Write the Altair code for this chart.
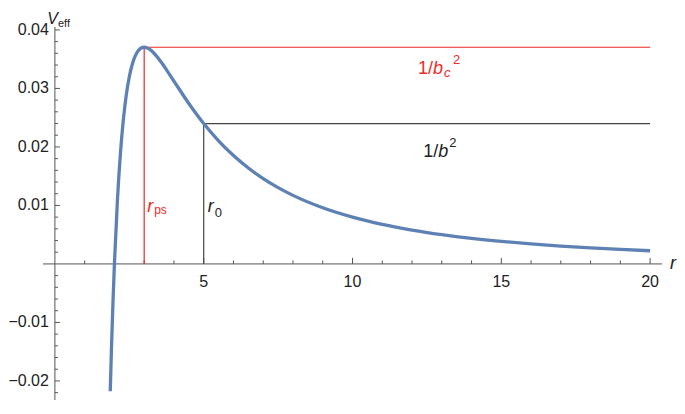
import altair as alt
import pandas as pd

# ---------------- data ----------------
r_vals = [1.86, 1.9, 1.95, 2.0, 2.1, 2.2, 2.3, 2.4, 2.5, 2.6, 2.7, 2.8, 2.9, 3.0,
          3.1, 3.2, 3.4, 3.6, 3.8, 4.0, 4.5, 5.0, 5.5, 6.0, 6.5, 7.0, 7.5, 8.0,
          9.0, 10.0, 11.0, 12.0, 13.0, 14.0, 15.0, 16.0, 17.0, 18.0, 19.0, 20.0]
v_vals = [-0.02176, -0.01458, -0.00674, 0.0, 0.01080, 0.01878, 0.02466, 0.02894,
          0.03200, 0.03414, 0.03556, 0.03644, 0.03690, 0.03704, 0.03692, 0.03662,
          0.03562, 0.03429, 0.03280, 0.03125, 0.02743, 0.02400, 0.02104, 0.01852,
          0.01639, 0.01458, 0.01304, 0.01172, 0.00960, 0.00800, 0.00676, 0.00579,
          0.00501, 0.00437, 0.00385, 0.00342, 0.00305, 0.00274, 0.00248, 0.00225]

r_ps = 3.0
v_c = 0.03704
r_0 = 5.0
v_0 = 0.024
r_end = 20.0

x_major_ticks = [5, 10, 15, 20]
x_major_labels = ["5", "10", "15", "20"]
x_minor_ticks = [1, 2, 3, 4, 6, 7, 8, 9, 11, 12, 13, 14, 16, 17, 18, 19]
y_major_ticks = [-0.02, -0.01, 0.01, 0.02, 0.03, 0.04]
y_major_labels = ["\u22120.02", "\u22120.01", "0.01", "0.02", "0.03", "0.04"]
y_minor_ticks = [-0.022, -0.018, -0.016, -0.014, -0.012, -0.008, -0.006, -0.004,
                 -0.002, 0.002, 0.004, 0.006, 0.008, 0.012, 0.014, 0.016, 0.018,
                 0.022, 0.024, 0.026, 0.028, 0.032, 0.034, 0.036, 0.038]

# label anchors (data coordinates)
bc_label_at = (12.2, 0.0325)
b_label_at = (12.38, 0.0183)
r_label_v = 0.0089

# ---------------- styling ----------------
FONT = "Liberation Sans"
BLUE = "#5E81B5"
RED = "#EE2A24"
DARK = "#444444"
AX = "#555555"
TXT = "#222222"

X_MIN, X_MAX = -0.4, 20.4
Y_MAX = 0.0405
PX_PER_UNIT_Y = 5850.0
HEIGHT = 373
Y_MIN = Y_MAX - HEIGHT / PX_PER_UNIT_Y
WIDTH = 619

xs = alt.Scale(domain=[X_MIN, X_MAX], nice=False, zero=False)
ys = alt.Scale(domain=[Y_MIN, Y_MAX], nice=False, zero=False)

one = pd.DataFrame({"a": [0]})


def xd(v):
    return alt.XDatum(v, type="quantitative", scale=xs, axis=None)


def yd(v):
    return alt.YDatum(v, type="quantitative", scale=ys, axis=None)


def piece(text, r, v, dx=0, dy=0, size=18, italic=True, color=TXT,
          align="left", baseline="alphabetic"):
    return alt.Chart(one).mark_text(
        text=text, dx=dx, dy=dy, fontSize=size,
        fontStyle="italic" if italic else "normal",
        color=color, align=align, baseline=baseline, font=FONT
    ).encode(x=xd(r), y=yd(v))


# ---------------- axes ----------------
x_axis_line = alt.Chart(one).mark_rule(color=AX, strokeWidth=1).encode(
    x=xd(X_MIN), x2=alt.datum(X_MAX), y=yd(0), y2=alt.datum(0))
y_axis_line = alt.Chart(one).mark_rule(color=AX, strokeWidth=1).encode(
    x=xd(0), x2=alt.datum(0), y=yd(Y_MIN), y2=alt.datum(Y_MAX))

xt_major = pd.DataFrame({"t": x_major_ticks, "lab": x_major_labels})
xt_minor = pd.DataFrame({"t": x_minor_ticks})
yt_major = pd.DataFrame({"t": y_major_ticks, "lab": y_major_labels})
yt_minor = pd.DataFrame({"t": y_minor_ticks})

x_major_marks = alt.Chart(xt_major).mark_rule(color=AX, strokeWidth=1, y2Offset=-6).encode(
    x=alt.X("t:Q", scale=xs, axis=None), y=yd(0), y2=alt.datum(0))
x_minor_marks = alt.Chart(xt_minor).mark_rule(color=AX, strokeWidth=1, y2Offset=-3.5).encode(
    x=alt.X("t:Q", scale=xs, axis=None), y=yd(0), y2=alt.datum(0))
y_major_marks = alt.Chart(yt_major).mark_rule(color=AX, strokeWidth=1, x2Offset=5).encode(
    y=alt.Y("t:Q", scale=ys, axis=None), x=xd(0), x2=alt.datum(0))
y_minor_marks = alt.Chart(yt_minor).mark_rule(color=AX, strokeWidth=1, x2Offset=3).encode(
    y=alt.Y("t:Q", scale=ys, axis=None), x=xd(0), x2=alt.datum(0))

x_labels = alt.Chart(xt_major).mark_text(
    dy=23, fontSize=16, font=FONT, color=TXT, baseline="alphabetic", align="center"
).encode(x=alt.X("t:Q", scale=xs, axis=None), y=yd(0), text="lab:N")
y_labels = alt.Chart(yt_major).mark_text(
    dx=-6, fontSize=16, font=FONT, color=TXT, baseline="middle", align="right"
).encode(y=alt.Y("t:Q", scale=ys, axis=None), x=xd(0), text="lab:N")

v_title = piece("V", 0, Y_MAX, dx=3, dy=-3, size=16, align="right")
eff_title = piece("eff", 0, Y_MAX, dx=3, dy=0, size=11, italic=False)
r_title = piece("r", X_MAX, 0, dx=8, dy=5, size=18)

# ---------------- reference lines ----------------
seg = pd.DataFrame({
    "r": [r_ps, r_ps, r_0, r_0],
    "r2": [r_ps, r_end, r_0, r_end],
    "v": [0.0, v_c, 0.0, v_0],
    "v2": [v_c, v_c, v_0, v_0],
    "c": ["red", "red", "black", "black"],
})
segments = alt.Chart(seg).mark_rule(strokeWidth=1.2).encode(
    x=alt.X("r:Q", scale=xs, axis=None), x2="r2:Q",
    y=alt.Y("v:Q", scale=ys, axis=None), y2="v2:Q",
    color=alt.Color("c:N", scale=alt.Scale(domain=["red", "black"], range=[RED, DARK]), legend=None),
)

# ---------------- curve ----------------
curve_df = pd.DataFrame({"r": r_vals, "v": v_vals})
curve = alt.Chart(curve_df).mark_line(color=BLUE, strokeWidth=3.3, interpolate="monotone").encode(
    x=alt.X("r:Q", scale=xs, axis=None), y=alt.Y("v:Q", scale=ys, axis=None))

# ---------------- annotation labels ----------------
bx, bv = bc_label_at
lab_bc = [
    piece("1/", bx, bv, dx=0, size=18, italic=False, color=RED),
    piece("b", bx, bv, dx=15, size=18, color=RED),
    piece("c", bx, bv, dx=26, dy=3, size=13, color=RED),
    piece("2", bx, bv, dx=35, dy=-10, size=13, italic=False, color=RED),
]
cx, cv = b_label_at
lab_b = [
    piece("1/", cx, cv, dx=0, size=18, italic=False),
    piece("b", cx, cv, dx=15, size=18),
    piece("2", cx, cv, dx=26, dy=-10, size=13, italic=False),
]
lab_rps = [
    piece("r", r_ps, r_label_v, dx=3, size=18, color=RED),
    piece("ps", r_ps, r_label_v, dx=10, dy=2, size=12, italic=False, color=RED),
]
lab_r0 = [
    piece("r", r_0, r_label_v, dx=4, size=18),
    piece("0", r_0, r_label_v, dx=11, dy=5, size=13, italic=False),
]

chart = alt.layer(
    x_axis_line, y_axis_line, x_major_marks, x_minor_marks, y_major_marks, y_minor_marks,
    x_labels, y_labels, v_title, eff_title, r_title,
    segments, curve, *lab_bc, *lab_b, *lab_rps, *lab_r0,
).properties(
    width=WIDTH, height=HEIGHT,
    autosize=alt.AutoSizeParams(type="none"),
    padding={"left": 35, "top": 19, "right": 15, "bottom": 0},
    background="white",
).configure_view(stroke=None).configure_axis(disable=True)

chart.save("out.html", embed_options={"renderer": "svg", "actions": False})
